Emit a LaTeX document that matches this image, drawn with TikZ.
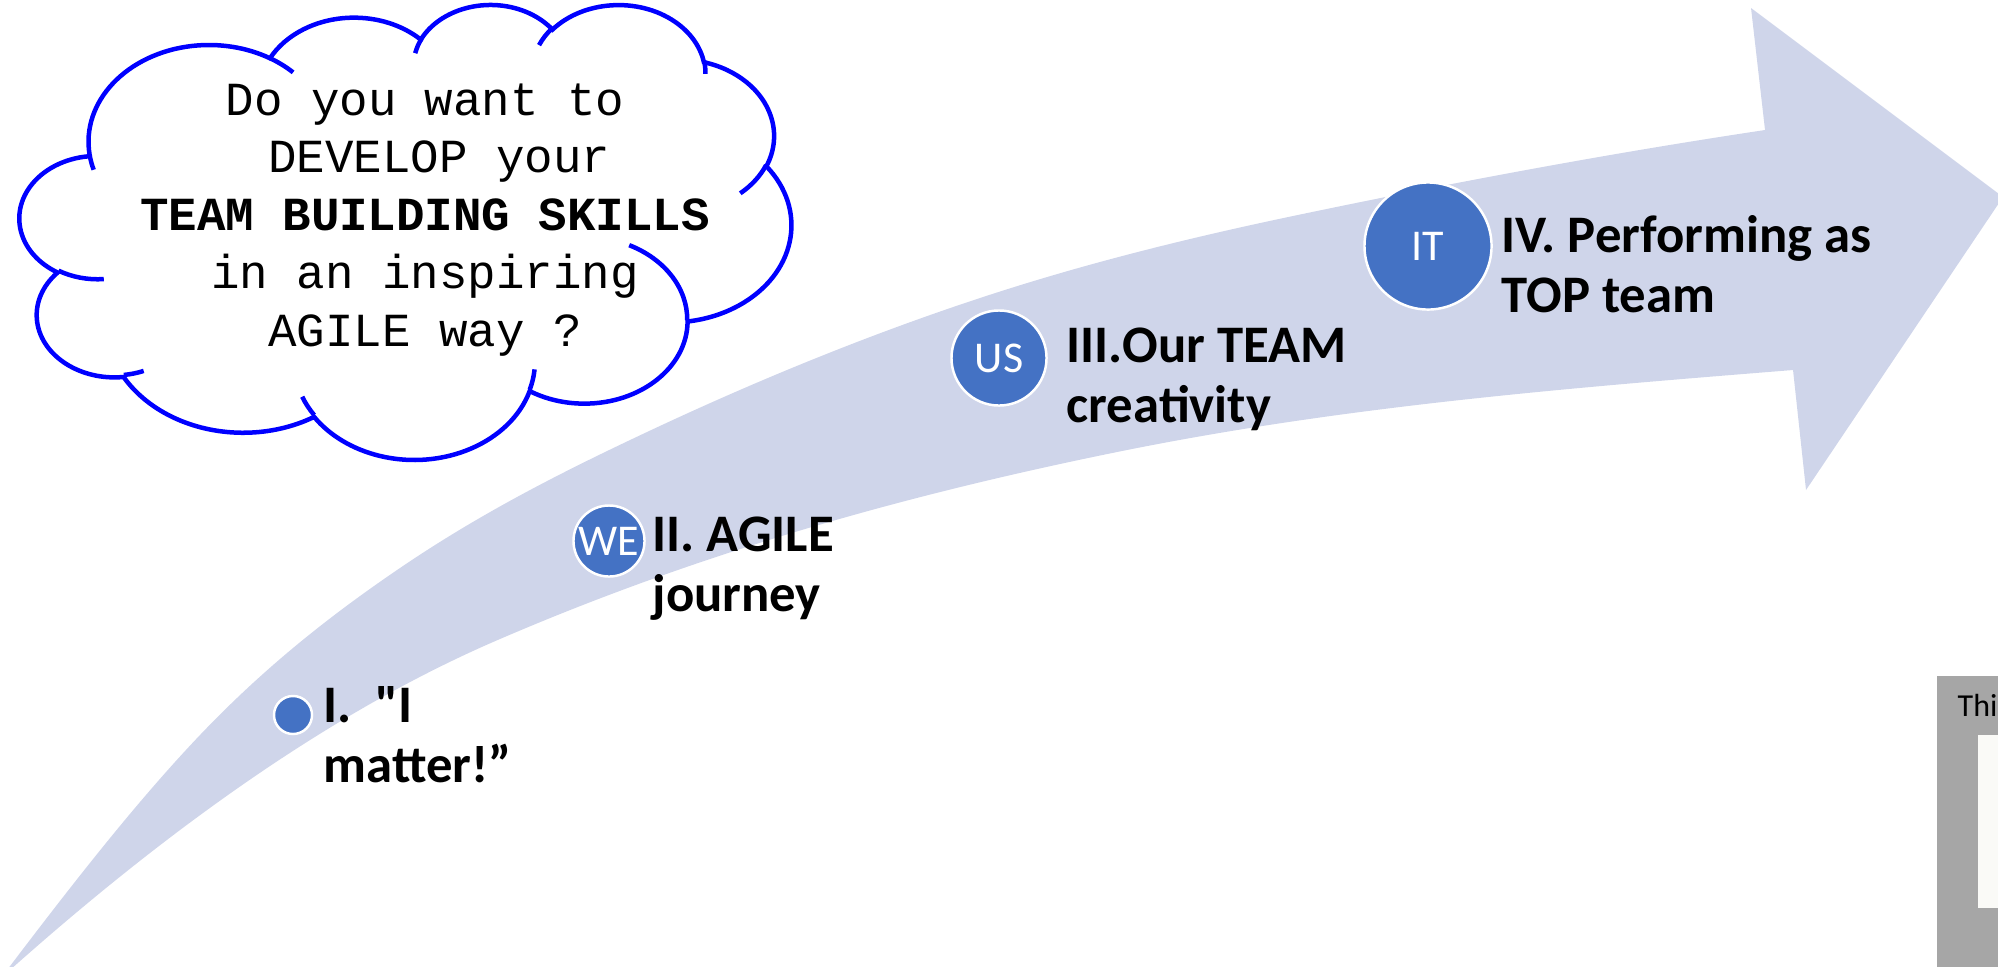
\documentclass[tikz,border=0pt]{standalone}
\usepackage{fontspec}
\newfontfamily\labelfont{Carlito}
\newfontfamily\cloudfont{Liberation Mono}
\usetikzlibrary{positioning}

\definecolor{bandblue}{RGB}{207,213,234}
\definecolor{stageblue}{RGB}{68,114,196}
\definecolor{cloudblue}{RGB}{0,0,255}
\definecolor{boxgray}{RGB}{166,166,166}
\definecolor{photowhite}{RGB}{250,250,247}

\tikzset{
  stage/.style={circle, fill=stageblue, draw=white, line width=0.7pt, inner sep=0pt,
    text=white, font=\labelfont\fontsize{12.5}{14}\selectfont},
  stagelabel/.style={anchor=base west, inner sep=0pt, align=left,
    font=\labelfont\bfseries\fontsize{15}{16.9}\selectfont},
  cloudtext/.style={anchor=base, inner sep=0pt, align=center,
    font=\cloudfont\fontsize{13.5}{16.4}\selectfont},
}

\begin{document}
\begin{tikzpicture}[x=0.01cm, y=-0.01cm]
  \useasboundingbox (0,0) rectangle (1998,966);
  \clip (0,0) rectangle (1998,966);

  % the rising arrow
  \fill[bandblue] (1,978) .. controls (67.3,890.5) and (133.7,804.6) .. (200,735)
    .. controls (266.7,665) and (333.3,613.3) .. (400,568)
    .. controls (482.3,512) and (564.7,470.7) .. (647,432)
    .. controls (758,379.8) and (869,334.6) .. (980,298)
    .. controls (1084.3,263.6) and (1188.7,237.9) .. (1293,216)
    .. controls (1450.3,183) and (1607.7,153.6) .. (1765,130)
    -- (1751,8) -- (2003,197) -- (1806,490) -- (1793,370)
    .. controls (1571,387.8) and (1349,405.6) .. (1127,450)
    .. controls (918,492) and (709,549) .. (500,639)
    .. controls (334,710) and (167,829) .. (1,978) -- cycle;

  % thought cloud
  \begin{scope}[shift={(20,3.5)}, xscale=1.785, yscale=1.0528, line width=1.28pt]
    \filldraw[draw=cloudblue, fill=white] (39.00,143.70)
      arc[start angle=-187.75, end angle=-59.64, x radius=67.53, y radius=91.90]
      arc[start angle=-152.02, end angle=-45.46, x radius=53.33, y radius=72.67]
      arc[start angle=-153.49, end angle=-37.33, x radius=43.65, y radius=59.45]
      arc[start angle=-139.70, end angle=-10.21, x radius=48.57, y radius=65.95]
      arc[start angle=-74.77, end angle=23.21, x radius=53.33, y radius=72.73]
      arc[start angle=-37.53, end angle=81.87, x radius=67.75, y radius=92.20]
      arc[start angle=0.46, end angle=121.97, x radius=57.85, y radius=78.67]
      arc[start angle=16.85, end angle=146.23, x radius=67.52, y radius=92.15]
      arc[start angle=58.98, end angle=150.18, x radius=77.20, y radius=105.43]
      arc[start angle=83.30, end angle=223.08, x radius=43.60, y radius=59.18]
      arc[start angle=120.35, end angle=264.11, x radius=43.45, y radius=59.45]
      -- cycle;
    % inner strokes of the puffs
    \draw[cloudblue]
      (46.93,261.77) arc[start angle=85.55, end angle=120.35, x radius=43.45, y radius=59.45]
      (69.28,348.99) arc[start angle=68.23, end angle=83.30, x radius=43.60, y radius=59.18]
      (164.78,390.90) arc[start angle=146.23, end angle=158.47, x radius=67.52, y radius=92.15]
      (288.27,347.51) arc[start angle=4.74, end angle=16.85, x radius=67.52, y radius=92.15]
      (341.29,229.54) arc[start angle=-64.03, end angle=0.46, x radius=57.85, y radius=78.67]
      (417.98,153.54) arc[start angle=23.21, end angle=49.64, x radius=53.33, y radius=72.73]
      (383.24,54.26) arc[start angle=-10.21, end angle=0.82, x radius=48.57, y radius=65.95]
      (290.78,39.52) arc[start angle=-156.29, end angle=-139.70, x radius=48.57, y radius=65.95]
      (221.41,47.20) arc[start angle=-167.73, end angle=-153.49, x radius=43.65, y radius=59.45]
      (140.00,51.92) arc[start angle=-59.64, end angle=-45.74, x radius=67.53, y radius=91.90]
      (41.27,157.89) arc[start angle=163.20, end angle=172.26, x radius=67.53, y radius=91.90];
  \end{scope}

  % base of a multi-line node is its last line
  \node[cloudtext] (ask) at (425,346) {Do you want to\\\hspace*{0.6em}DEVELOP your\\
    \textbf{TEAM BUILDING SKILLS}\\in an inspiring\\AGILE way ?};

  % stages along the arrow
  \node[stage, minimum size=0.38cm] (me) at (293,715) {};
  \node[stage, minimum size=0.71cm] (we) at (609,541) {WE};
  \node[stage, minimum size=0.95cm] (us) at (999,358) {US};
  \node[stage, minimum size=1.27cm] (it) at (1428,246) {IT};

  \node[stagelabel] (meL) at (323,782) {I.\ \ "I\\matter!”};
  \node[stagelabel] (weL) at (652,611) {II. AGILE\\journey};
  \node[stagelabel] (usL) at (1066,422) {III.Our TEAM\\creativity};
  \node[stagelabel] (itL) at (1501,312) {IV. Performing as\\TOP team};

  % picture frame in the corner
  \fill[boxgray] (1937,676) rectangle (2000,970);
  \fill[photowhite] (1978,735) rectangle (2000,908);
  \node[anchor=base west, inner sep=0pt, font=\labelfont\fontsize{9.1}{11}\selectfont]
    (credit) at (1957,716) {This};
\end{tikzpicture}
\end{document}
